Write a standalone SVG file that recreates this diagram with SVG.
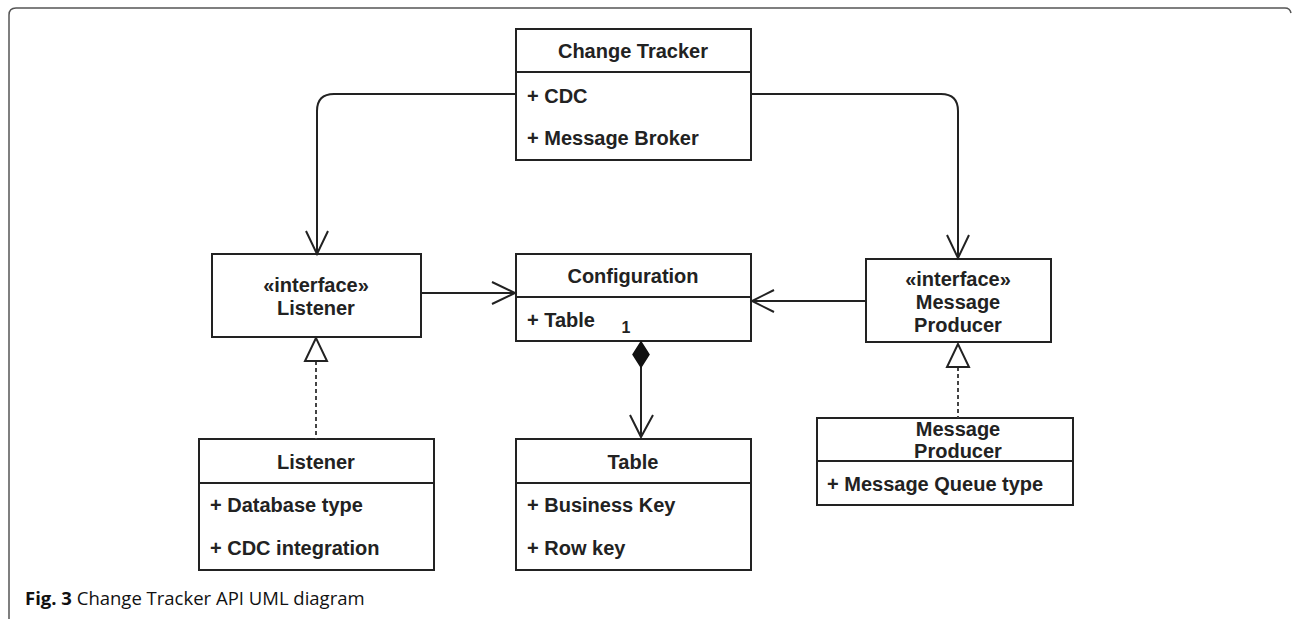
<svg xmlns="http://www.w3.org/2000/svg" width="1292" height="619" viewBox="0 0 1292 619">
<style>
.box{fill:#fff;stroke:#222;stroke-width:2}
.div{stroke:#222;stroke-width:2}
.t{font-family:"Liberation Sans",Arial,sans-serif;font-size:20px;font-weight:bold;fill:#222}
.c{text-anchor:middle}
.ln{fill:none;stroke:#222;stroke-width:2}
.dash{fill:none;stroke:#444;stroke-width:2;stroke-dasharray:4 3}
.lbl{font-family:"Liberation Sans",Arial,sans-serif;font-size:16px;font-weight:bold;fill:#222}
.cap{font-family:"Open Sans","Liberation Sans",sans-serif;font-size:18.5px;fill:#111}
</style>
<rect width="1292" height="619" fill="#fff"/>
<path d="M9,619 V15 Q9,8 16,8 H1285 Q1290,8 1291,13" fill="none" stroke="#555" stroke-width="1.5"/>
<g id="change-tracker">
<rect class="box" x="516" y="29" width="235" height="131"/>
<line class="div" x1="516" y1="72" x2="751" y2="72"/>
<text class="t c" x="633" y="58">Change Tracker</text>
<text class="t" x="527" y="103">+ CDC</text>
<text class="t" x="527" y="145">+ Message Broker</text>
</g>
<g id="listener-interface">
<rect class="box" x="212" y="254" width="209" height="83"/>
<text class="t c" x="316" y="292">«interface»</text>
<text class="t c" x="316" y="315">Listener</text>
</g>
<g id="configuration">
<rect class="box" x="516" y="254" width="235" height="87"/>
<line class="div" x1="516" y1="297" x2="751" y2="297"/>
<text class="t c" x="633" y="283">Configuration</text>
<text class="t" x="527" y="327">+ Table</text>
</g>
<g id="message-producer-interface">
<rect class="box" x="866" y="259" width="185" height="83"/>
<text class="t c" x="958" y="286">«interface»</text>
<text class="t c" x="958" y="309">Message</text>
<text class="t c" x="958" y="332">Producer</text>
</g>
<g id="listener">
<rect class="box" x="199" y="439" width="235" height="131"/>
<line class="div" x1="199" y1="483" x2="434" y2="483"/>
<text class="t c" x="316" y="469">Listener</text>
<text class="t" x="210" y="512">+ Database type</text>
<text class="t" x="210" y="555">+ CDC integration</text>
</g>
<g id="table">
<rect class="box" x="516" y="439" width="235" height="131"/>
<line class="div" x1="516" y1="483" x2="751" y2="483"/>
<text class="t c" x="633" y="469">Table</text>
<text class="t" x="527" y="512">+ Business Key</text>
<text class="t" x="527" y="555">+ Row key</text>
</g>
<g id="message-producer">
<rect class="box" x="817" y="418" width="256" height="87"/>
<line class="div" x1="817" y1="461" x2="1073" y2="461"/>
<text class="t c" x="958" y="436">Message</text>
<text class="t c" x="958" y="458">Producer</text>
<text class="t" x="827" y="491">+ Message Queue type</text>
</g>
<g id="connectors">
<path class="ln" d="M516,94 H334 Q317,94 317,111 V254"/>
<path class="ln" d="M306,231 L317,254 L328,231"/>
<path class="ln" d="M751,94 H941 Q958,94 958,111 V258"/>
<path class="ln" d="M947,235 L958,258 L969,235"/>
<path class="ln" d="M421,293 H515"/>
<path class="ln" d="M492,282 L515,293 L492,304"/>
<path class="ln" d="M866,301 H752"/>
<path class="ln" d="M774,290 L752,301 L774,312"/>
<path class="dash" d="M316,361 V439"/>
<path d="M316,338 L305,361 L327,361 Z" fill="#fff" stroke="#222" stroke-width="2"/>
<path class="dash" d="M958,367 V418"/>
<path d="M958,344 L947,367 L969,367 Z" fill="#fff" stroke="#222" stroke-width="2"/>
<path class="ln" d="M641,367 V437"/>
<path d="M641,342 L649,354.5 L641,367 L633,354.5 Z" fill="#111" stroke="#111" stroke-width="1.5"/>
<path class="ln" d="M630,415 L641,437 L653,415"/>
<text x="626" y="333" class="lbl" text-anchor="middle">1</text>
</g>
<text class="cap" x="25" y="605"><tspan font-weight="bold">Fig. 3</tspan> Change Tracker API UML diagram</text>
</svg>
